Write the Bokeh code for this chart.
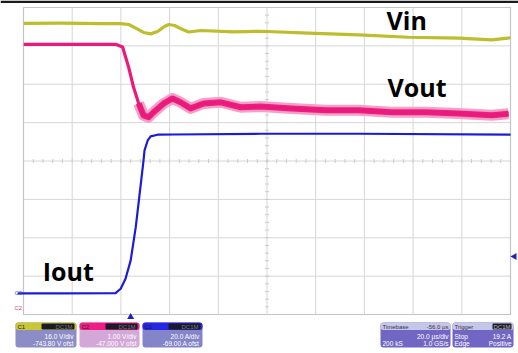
import numpy as np
from bokeh.plotting import figure
from bokeh.models import Range1d
from bokeh.core.properties import value
from bokeh.embed import file_html
from bokeh.resources import INLINE

# ---------------- data ----------------
# time in microseconds, relative to the trigger
vin_t = [-43.9, -28.7, -12.3, -4.1, -0.8, 2.5, 5.3, 8.2, 11.1, 13.6, 15.6, 18.1,
         20.9, 23.8, 28.7, 42.3, 53.4, 73.1, 93.6, 114.2, 134.7, 148.3, 156.0]
vin_v = [801.2, 801.3, 801.1, 801.1, 800.7, 799.0, 797.4, 796.8, 797.8, 799.7, 800.7, 800.3,
         798.8, 797.6, 798.2, 797.6, 797.9, 797.1, 796.4, 795.4, 795.0, 794.3, 795.2]

vout_t = [-43.9, -24.6, -6.2, -3.3, -0.8, 1.2, 3.3, 5.3, 7.4, 9.4, 13.6, 17.2, 20.5,
          24.6, 30.0, 37.0, 45.2, 53.4, 66.1, 80.1, 93.6, 107.2, 121.1, 134.7, 148.3, 155.2]
vout_v = [50.04, 50.04, 50.04, 49.97, 49.44, 48.92, 48.50, 48.19, 48.14, 48.27, 48.50, 48.63, 48.53,
          48.37, 48.50, 48.53, 48.40, 48.42, 48.37, 48.32, 48.32, 48.27, 48.27, 48.24, 48.19, 48.23]

iout_t = [-46.4, -28.7, -6.2, -4.1, -2.1, 0.0, 2.1, 3.7, 5.3, 5.7, 7.0, 8.2, 11.1, 17.7, 53.4, 93.6, 156.0]
iout_a = [0.0, 0.0, 0.1, 2.4, 7.6, 17.1, 34.5, 51.9, 69.3, 74.5, 79.7, 81.8, 82.7, 82.8, 83.2, 83.2, 82.7]

labels = ["Vin", "Vout", "Iout"]

# scope settings
C1_SCALE, C1_OFS = 16.0, -743.80   # V/div, V offset
C2_SCALE, C2_OFS = 1.00, -47.000
C3_SCALE, C3_OFS = 20.0, -69.00    # A/div, A offset
T_DELAY, T_DIV = -56.0, 20.0       # us, us/div
TRIG_LEVEL = 19.2                  # A

NDIV_X, NDIV_Y = 10, 8
T_LEFT = -T_DELAY - T_DIV * NDIV_X / 2
T_RIGHT = -T_DELAY + T_DIV * NDIV_X / 2


def to_div(v, scale, ofs):
    return NDIV_Y / 2 + (np.asarray(v, dtype=float) + ofs) / scale


# ---------------- layout (page pixels) ----------------
OX, OY = 0, 0
W, H = 518, 353
GL, GR, GT, GB = 23, 510, 7, 314         # grid box on page
PXU = (GR - GL) / (T_RIGHT - T_LEFT)     # px per us
PYU = (GB - GT) / NDIV_Y                 # px per div
x0 = T_LEFT - (GL - OX) / PXU
x1 = T_RIGHT + (OX + W - GR) / PXU
y1 = NDIV_Y + (GT - OY) / PYU
y0 = -(OY + H - GB) / PYU


def X(pg):
    return T_LEFT + (pg - GL) / PXU


def Y(pg):
    return (GB - pg) / PYU


p = figure(width=W, height=H, output_backend="svg", toolbar_location=None,
           x_range=Range1d(x0, x1), y_range=Range1d(y0, y1))
p.axis.visible = False
p.grid.visible = False
p.min_border = 0
p.min_border_left = p.min_border_right = p.min_border_top = p.min_border_bottom = 0
p.outline_line_color = None
p.background_fill_color = "white"
p.border_fill_color = "white"

# black strip at top
p.quad(left=x0, right=x1, top=y1, bottom=Y(2.5), fill_color="#1a1a1a", line_color=None)

# graticule
vx = [T_LEFT + k * T_DIV for k in range(NDIV_X + 1)]
p.segment(x0=vx, x1=vx, y0=[0] * len(vx), y1=[NDIV_Y] * len(vx), line_color="#d6d6d6", line_width=1)
hy = list(range(NDIV_Y + 1))
p.segment(x0=[T_LEFT] * len(hy), x1=[T_RIGHT] * len(hy), y0=hy, y1=hy, line_color="#d6d6d6", line_width=1)
p.quad(left=T_LEFT, right=T_RIGHT, bottom=0, top=NDIV_Y, fill_color=None, line_color="#c4c4c4", line_width=1.2)
# minor ticks on center cross
tc = -T_DELAY
mx = [T_LEFT + k * T_DIV / 5 for k in range(1, NDIV_X * 5)]
p.segment(x0=mx, x1=mx, y0=[4 - 2 / PYU] * len(mx), y1=[4 + 2 / PYU] * len(mx), line_color="#cccccc", line_width=1)
my = [k / 5 for k in range(1, NDIV_Y * 5)]
p.segment(x0=[tc - 2 / PXU] * len(my), x1=[tc + 2 / PXU] * len(my), y0=my, y1=my, line_color="#cccccc", line_width=1)

# traces
vin_d = to_div(vin_v, C1_SCALE, C1_OFS)
vout_d = to_div(vout_v, C2_SCALE, C2_OFS)
iout_d = to_div(iout_a, C3_SCALE, C3_OFS)

p.line(vin_t, vin_d, line_color="#bdbd2e", line_width=3.2, line_join="round")

vt = np.asarray(vout_t)
band = vt >= 3.3
p.line(vt[band], vout_d[band], line_color="#f5a0c6", line_width=11, line_join="round")
p.line(vt[band], vout_d[band], line_color="#ec1f80", line_width=6, line_join="round")
p.line(vout_t, vout_d, line_color="#ea1a7c", line_width=3.2, line_join="round")

p.line(iout_t, iout_d, line_color="#1c1cd8", line_width=2.2, line_join="round")

# trace labels
lab_x = [105.1, 105.5, -36.1]
lab_y = [Y(19), Y(86), Y(270.5)]
p.text(x=lab_x, y=lab_y, text=labels, text_font=value("Open Sans"), text_font_style="bold",
       text_font_size="25px", text_color="black", text_baseline="alphabetic", text_align="left")

# channel ground markers and trigger markers
p.text(x=[X(14)], y=[to_div(0, C3_SCALE, C3_OFS)], text=["C3"], text_font=value("Liberation Sans"),
       text_font_size="6px", text_color="#5050d0", text_baseline="middle")
p.text(x=[X(14)], y=[Y(307)], text=["C2"], text_font=value("Liberation Sans"),
       text_font_size="6px", text_color="#e0407a", text_baseline="middle")
p.scatter(x=[0.0], y=[Y(316.5)], marker="triangle", size=7, fill_color="#2020c8", line_color=None)
p.scatter(x=[T_RIGHT + 4 / PXU], y=[to_div(TRIG_LEVEL, C3_SCALE, C3_OFS)], marker="triangle",
          angle=np.pi / 2, size=7, fill_color="#2020c8", line_color=None)


# info panels
def box(a, b, top, bot, color, r=0):
    p.quad(left=X(a), right=X(b), top=Y(top), bottom=Y(bot), fill_color=color,
           line_color=None, border_radius=r)


def txt(xp, yp, s, color="white", align="right", size="6.5px"):
    p.text(x=[X(xp)], y=[Y(yp)], text=[s], text_font=value("Liberation Sans"), text_font_size=size,
           text_color=color, text_align=align, text_baseline="middle")


chan = [
    (15, 76, "#c9c834", "#8c8cc6", "C1", "16.0 V/div", "-743.80 V ofst"),
    (79, 139, "#ee1e84", "#d3a8d8", "C2", "1.00 V/div", "-47.000 V ofst"),
    (142, 202, "#2626e4", "#8484c8", "C3", "20.0 A/div", "-69.00 A ofst"),
]
for a, b, hc, bc, name, l1, l2 in chan:
    box(a, b, 322, 347, bc, 3)
    box(a, b, 322, 329.5, hc, 3)
    box(a + 26, b - 2, 323, 329, "#1b1b28", 1)
    txt(a + 2, 326, name, color="#222222", align="left", size="6px")
    txt(b - 4, 326, "DC1M", color="#777777", size="6px")
    txt(b - 3, 335.5, l1)
    txt(b - 3, 343, l2)

for a, b, title in [(380, 450, "Timebase"), (452, 513, "Trigger")]:
    box(a, b, 322, 347, "#7266c4", 3)
    box(a, b, 322, 329.5, "#c6c6e8", 3)
    txt(a + 2, 326, title, color="#333344", align="left", size="6px")
txt(448, 326, "-56.0 µs", color="#333344", size="6px")
box(492, 511, 323, 329, "#1b1b28", 1)
txt(510, 326, "DC1M", color="#bbbbbb", size="6px")
txt(448, 335.5, "20.0 µs/div")
txt(382, 343, "200 kS", align="left")
txt(448, 343, "1.0 GS/s")
txt(454, 335.5, "Stop", align="left")
txt(511, 335.5, "19.2 A")
txt(454, 343, "Edge", align="left")
txt(511, 343, "Positive")

open("out.html", "w").write(file_html(p, INLINE))
